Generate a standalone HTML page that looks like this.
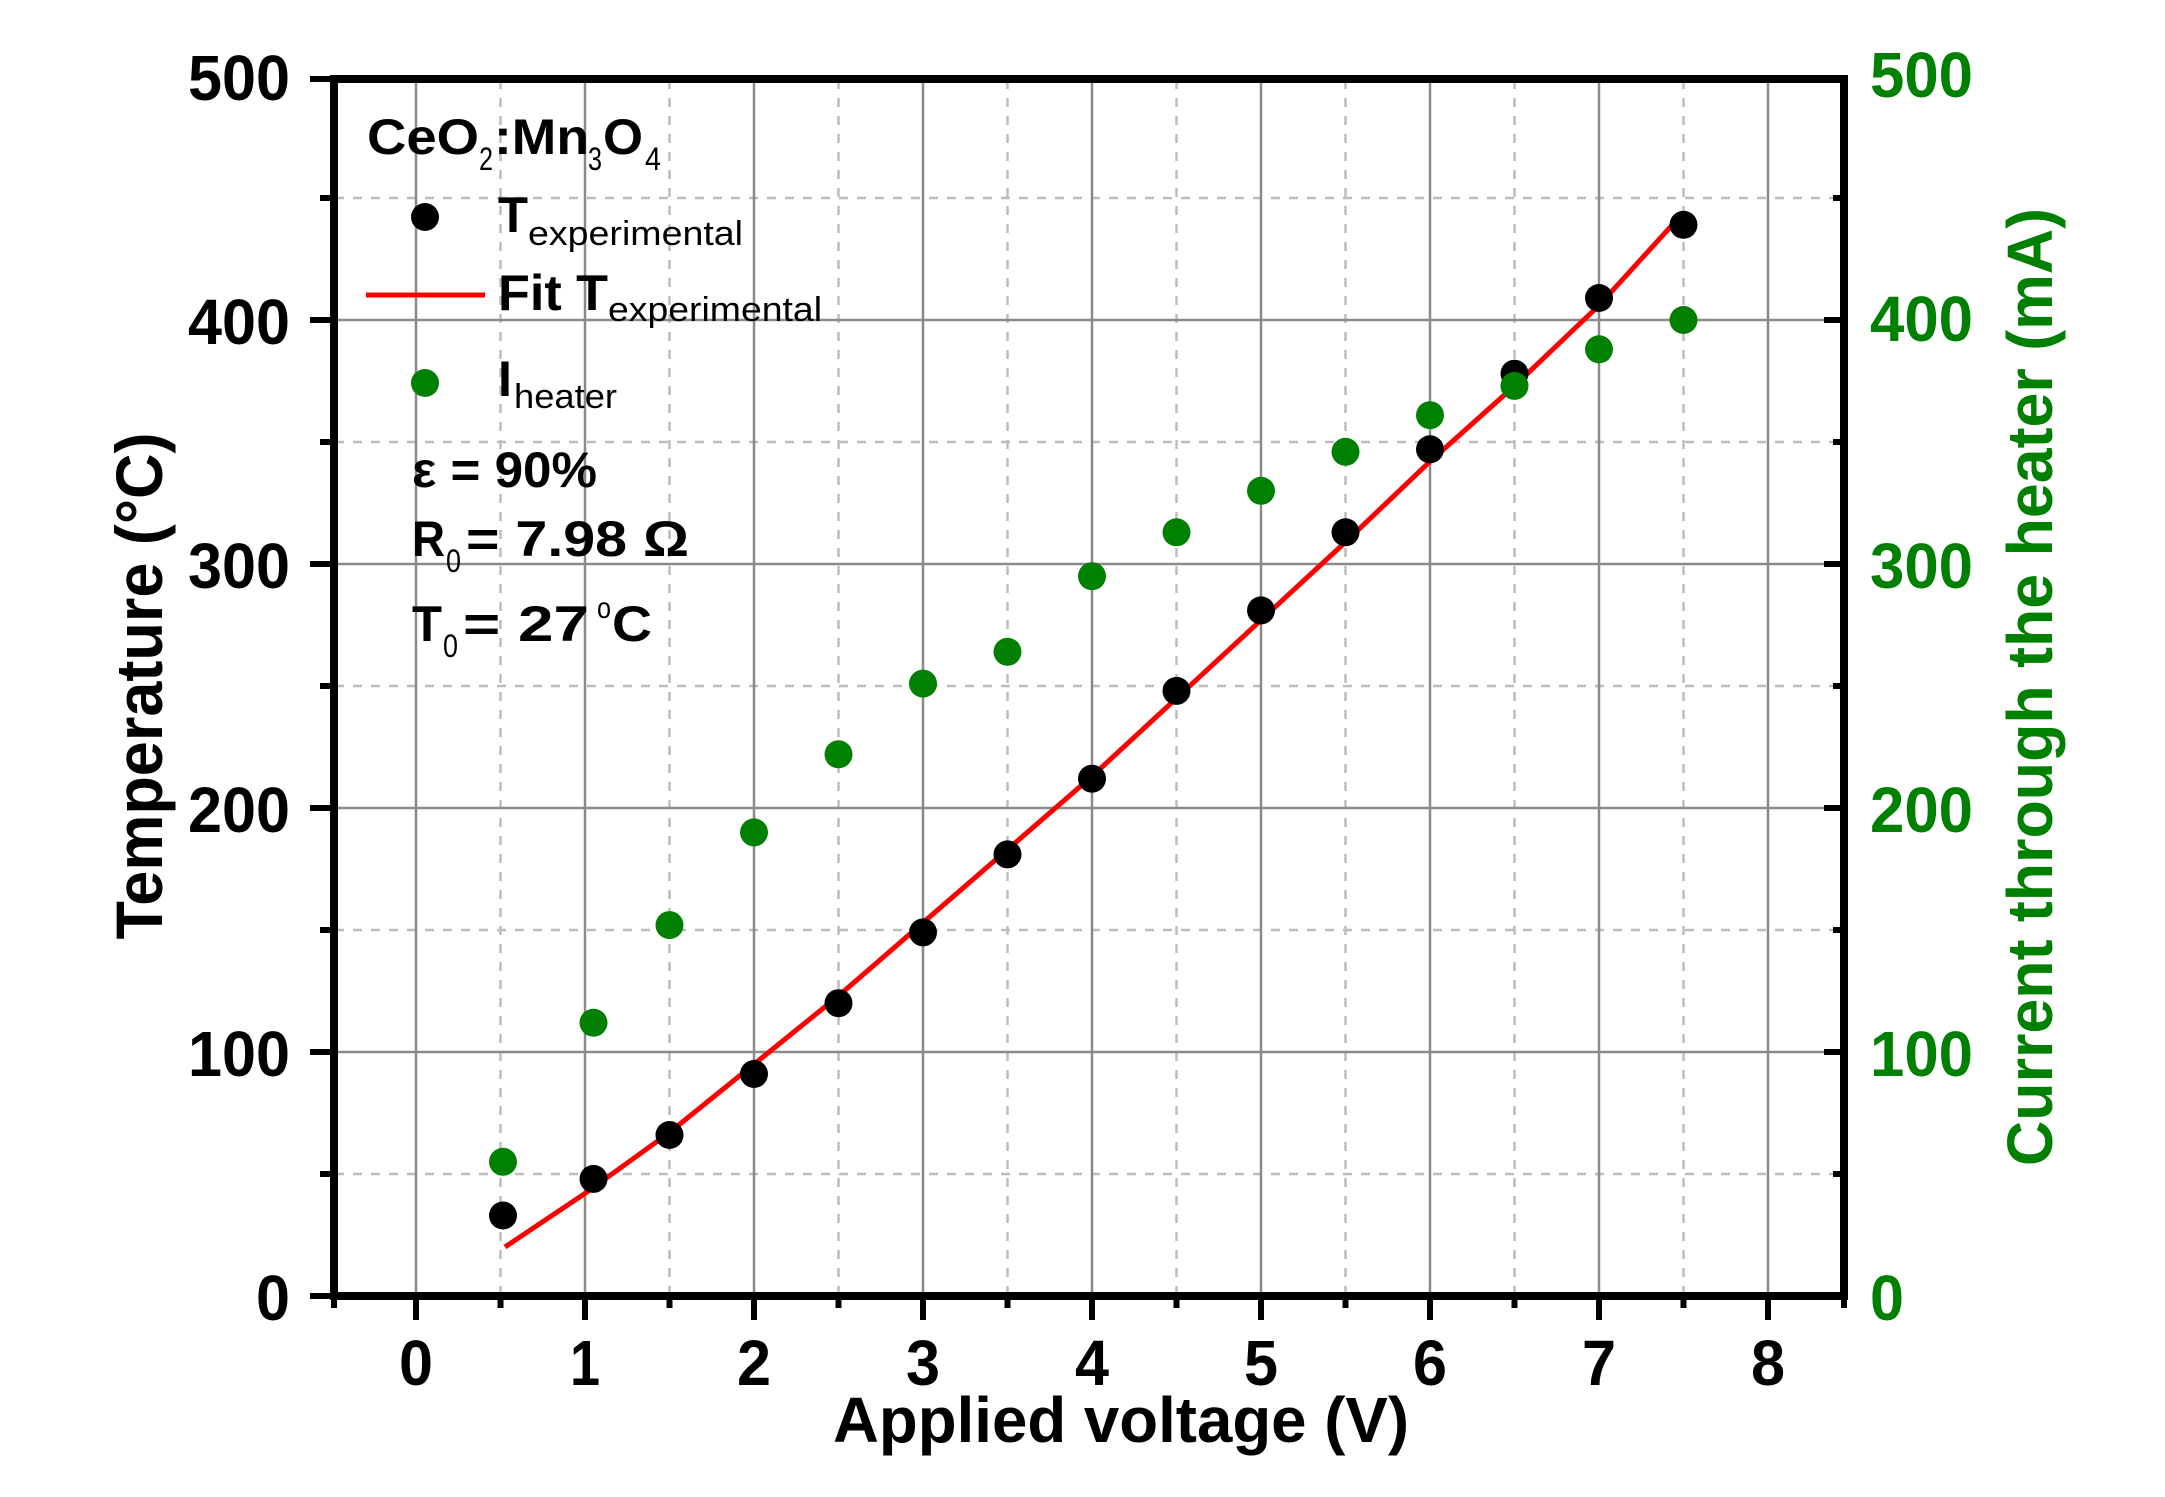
<!DOCTYPE html>
<html><head><meta charset="utf-8"><style>html,body{margin:0;padding:0;background:#fff}svg{display:block}</style></head>
<body>
<svg width="2165" height="1497" viewBox="0 0 2165 1497" xmlns="http://www.w3.org/2000/svg" font-family="'Liberation Sans', Arial, sans-serif" font-weight="bold">
<rect width="2165" height="1497" fill="#fff"/>
<!-- minor grid dashed -->
<g stroke="#bdbdbd" stroke-width="2.5" stroke-dasharray="9,9">
<line x1="500.5" y1="80" x2="500.5" y2="1296"/><line x1="669.5" y1="80" x2="669.5" y2="1296"/><line x1="838.5" y1="80" x2="838.5" y2="1296"/><line x1="1007.5" y1="80" x2="1007.5" y2="1296"/><line x1="1176.5" y1="80" x2="1176.5" y2="1296"/><line x1="1345.5" y1="80" x2="1345.5" y2="1296"/><line x1="1514.5" y1="80" x2="1514.5" y2="1296"/><line x1="1683.5" y1="80" x2="1683.5" y2="1296"/>
<line x1="335" y1="1174" x2="1844" y2="1174"/><line x1="335" y1="930" x2="1844" y2="930"/><line x1="335" y1="686" x2="1844" y2="686"/><line x1="335" y1="442" x2="1844" y2="442"/><line x1="335" y1="198" x2="1844" y2="198"/>
</g>
<g stroke="#8a8a8a" stroke-width="2.5">
<line x1="416" y1="80" x2="416" y2="1296"/><line x1="585" y1="80" x2="585" y2="1296"/><line x1="754" y1="80" x2="754" y2="1296"/><line x1="923" y1="80" x2="923" y2="1296"/><line x1="1092" y1="80" x2="1092" y2="1296"/><line x1="1261" y1="80" x2="1261" y2="1296"/><line x1="1430" y1="80" x2="1430" y2="1296"/><line x1="1599" y1="80" x2="1599" y2="1296"/><line x1="1768" y1="80" x2="1768" y2="1296"/>
<line x1="335" y1="1052" x2="1844" y2="1052"/><line x1="335" y1="808" x2="1844" y2="808"/><line x1="335" y1="564" x2="1844" y2="564"/><line x1="335" y1="320" x2="1844" y2="320"/>
</g>
<!-- axes -->
<g stroke="#000" fill="none">
<rect x="334" y="79" width="1510" height="1217" stroke-width="8"/>
</g>
<g stroke="#000" stroke-width="6">
<!-- left ticks -->
<line x1="310" y1="1296" x2="334" y2="1296"/><line x1="310" y1="1052" x2="334" y2="1052"/><line x1="310" y1="808" x2="334" y2="808"/><line x1="310" y1="564" x2="334" y2="564"/><line x1="310" y1="320" x2="334" y2="320"/><line x1="310" y1="79" x2="334" y2="79"/>
<line x1="320" y1="1174" x2="334" y2="1174"/><line x1="320" y1="930" x2="334" y2="930"/><line x1="320" y1="686" x2="334" y2="686"/><line x1="320" y1="442" x2="334" y2="442"/><line x1="320" y1="198" x2="334" y2="198"/>
<!-- right ticks inward -->
<line x1="1824" y1="1052" x2="1844" y2="1052"/><line x1="1824" y1="808" x2="1844" y2="808"/><line x1="1824" y1="564" x2="1844" y2="564"/><line x1="1824" y1="320" x2="1844" y2="320"/>
<line x1="1833" y1="1174" x2="1844" y2="1174"/><line x1="1833" y1="930" x2="1844" y2="930"/><line x1="1833" y1="686" x2="1844" y2="686"/><line x1="1833" y1="442" x2="1844" y2="442"/><line x1="1833" y1="198" x2="1844" y2="198"/>
<!-- bottom ticks -->
<line x1="416" y1="1296" x2="416" y2="1320"/><line x1="585" y1="1296" x2="585" y2="1320"/><line x1="754" y1="1296" x2="754" y2="1320"/><line x1="923" y1="1296" x2="923" y2="1320"/><line x1="1092" y1="1296" x2="1092" y2="1320"/><line x1="1261" y1="1296" x2="1261" y2="1320"/><line x1="1430" y1="1296" x2="1430" y2="1320"/><line x1="1599" y1="1296" x2="1599" y2="1320"/><line x1="1768" y1="1296" x2="1768" y2="1320"/>
<line x1="334" y1="1296" x2="334" y2="1308"/><line x1="500.5" y1="1296" x2="500.5" y2="1308"/><line x1="669.5" y1="1296" x2="669.5" y2="1308"/><line x1="838.5" y1="1296" x2="838.5" y2="1308"/><line x1="1007.5" y1="1296" x2="1007.5" y2="1308"/><line x1="1176.5" y1="1296" x2="1176.5" y2="1308"/><line x1="1345.5" y1="1296" x2="1345.5" y2="1308"/><line x1="1514.5" y1="1296" x2="1514.5" y2="1308"/><line x1="1683.5" y1="1296" x2="1683.5" y2="1308"/><line x1="1844" y1="1296" x2="1844" y2="1308"/>
</g>
<!-- tick labels -->
<g font-size="64" fill="#000" text-anchor="middle">
<text x="416" y="1385" textLength="34" lengthAdjust="spacingAndGlyphs">0</text>
<text x="585" y="1385" textLength="30" lengthAdjust="spacingAndGlyphs">1</text>
<text x="754" y="1385" textLength="34" lengthAdjust="spacingAndGlyphs">2</text>
<text x="923" y="1385" textLength="34" lengthAdjust="spacingAndGlyphs">3</text>
<text x="1092" y="1385" textLength="34" lengthAdjust="spacingAndGlyphs">4</text>
<text x="1261" y="1385" textLength="34" lengthAdjust="spacingAndGlyphs">5</text>
<text x="1430" y="1385" textLength="34" lengthAdjust="spacingAndGlyphs">6</text>
<text x="1599" y="1385" textLength="34" lengthAdjust="spacingAndGlyphs">7</text>
<text x="1768" y="1385" textLength="34" lengthAdjust="spacingAndGlyphs">8</text>
</g>
<g font-size="64" fill="#000" text-anchor="end">
<text x="290" y="1320" textLength="34" lengthAdjust="spacingAndGlyphs">0</text>
<text x="290" y="1076" textLength="102" lengthAdjust="spacingAndGlyphs">100</text>
<text x="290" y="832" textLength="102" lengthAdjust="spacingAndGlyphs">200</text>
<text x="290" y="588" textLength="102" lengthAdjust="spacingAndGlyphs">300</text>
<text x="290" y="344" textLength="102" lengthAdjust="spacingAndGlyphs">400</text>
<text x="290" y="100" textLength="102" lengthAdjust="spacingAndGlyphs">500</text>
</g>
<g font-size="64" fill="#008000">
<text x="1870" y="1320" textLength="34" lengthAdjust="spacingAndGlyphs">0</text>
<text x="1870" y="1076" textLength="103" lengthAdjust="spacingAndGlyphs">100</text>
<text x="1870" y="832" textLength="103" lengthAdjust="spacingAndGlyphs">200</text>
<text x="1870" y="588" textLength="103" lengthAdjust="spacingAndGlyphs">300</text>
<text x="1870" y="341" textLength="103" lengthAdjust="spacingAndGlyphs">400</text>
<text x="1870" y="97" textLength="103" lengthAdjust="spacingAndGlyphs">500</text>
</g>
<!-- axis titles -->
<text x="1121" y="1442" font-size="64" text-anchor="middle" textLength="576" lengthAdjust="spacingAndGlyphs">Applied voltage (V)</text>
<text transform="translate(162,686) rotate(-90)" font-size="66" text-anchor="middle" textLength="507" lengthAdjust="spacingAndGlyphs">Temperature (°C)</text>
<text transform="translate(2052,687) rotate(-90)" font-size="64" fill="#008000" text-anchor="middle" textLength="958" lengthAdjust="spacingAndGlyphs">Current through the heater (mA)</text>
<!-- fit line -->
<polyline fill="none" stroke="#ff0000" stroke-width="5" points="505,1247 585,1193.5 669.5,1132.5 754,1064.2 838.5,995.9 923,922.7 1007.5,849.5 1092,776.3 1176.5,698.2 1261,620.1 1345.5,542 1430,461.5 1514.5,385.9 1599,305.4 1683.5,212.6"/>
<!-- T experimental -->
<g fill="#000">
<circle cx="503" cy="1215.5" r="14"/><circle cx="593.5" cy="1178.9" r="14"/><circle cx="669.5" cy="1135" r="14"/><circle cx="754" cy="1074" r="14"/><circle cx="838.5" cy="1003.2" r="14"/><circle cx="923" cy="932.4" r="14"/><circle cx="1007.5" cy="854.4" r="14"/><circle cx="1092" cy="778.7" r="14"/><circle cx="1176.5" cy="690.9" r="14"/><circle cx="1261" cy="610.4" r="14"/><circle cx="1345.5" cy="532.3" r="14"/><circle cx="1430" cy="449.3" r="14"/><circle cx="1514.5" cy="373.7" r="14"/><circle cx="1599" cy="298" r="14"/><circle cx="1683.5" cy="224.8" r="14"/>
</g>
<g fill="#008000">
<circle cx="503" cy="1161.8" r="14"/><circle cx="593.5" cy="1022.7" r="14"/><circle cx="669.5" cy="925.1" r="14"/><circle cx="754" cy="832.4" r="14"/><circle cx="838.5" cy="754.3" r="14"/><circle cx="923" cy="683.6" r="14"/><circle cx="1007.5" cy="651.8" r="14"/><circle cx="1092" cy="576.2" r="14"/><circle cx="1176.5" cy="532.3" r="14"/><circle cx="1261" cy="490.8" r="14"/><circle cx="1345.5" cy="451.8" r="14"/><circle cx="1430" cy="415.2" r="14"/><circle cx="1514.5" cy="385.9" r="14"/><circle cx="1599" cy="349.3" r="14"/><circle cx="1683.5" cy="320" r="14"/>
</g>
<!-- legend -->
<g fill="#000" font-weight="normal">
<text x="367" y="154" font-size="50" font-weight="bold" textLength="112" lengthAdjust="spacingAndGlyphs">CeO</text>
<text x="479" y="170" font-size="32" textLength="14" lengthAdjust="spacingAndGlyphs">2</text>
<text x="494" y="154" font-size="50" font-weight="bold" textLength="95" lengthAdjust="spacingAndGlyphs">:Mn</text>
<text x="588" y="170" font-size="32" textLength="14" lengthAdjust="spacingAndGlyphs">3</text>
<text x="603" y="154" font-size="50" font-weight="bold" textLength="40" lengthAdjust="spacingAndGlyphs">O</text>
<text x="645" y="170" font-size="32" textLength="16" lengthAdjust="spacingAndGlyphs">4</text>
<circle cx="425" cy="217" r="14"/>
<text x="498" y="232" font-size="50" font-weight="bold" textLength="30" lengthAdjust="spacingAndGlyphs">T</text>
<text x="528" y="245" font-size="34" textLength="215" lengthAdjust="spacingAndGlyphs">experimental</text>
<line x1="366" y1="295" x2="485" y2="295" stroke="#ff0000" stroke-width="5"/>
<text x="498" y="310" font-size="50" font-weight="bold" textLength="110" lengthAdjust="spacingAndGlyphs">Fit T</text>
<text x="608" y="321" font-size="34" textLength="214" lengthAdjust="spacingAndGlyphs">experimental</text>
<circle cx="425" cy="383" r="14" fill="#008000"/>
<text x="498" y="396" font-size="50" font-weight="bold" textLength="14" lengthAdjust="spacingAndGlyphs">I</text>
<text x="514" y="408" font-size="34" textLength="103" lengthAdjust="spacingAndGlyphs">heater</text>
<text x="412" y="487" font-size="50" font-weight="bold" textLength="185" lengthAdjust="spacingAndGlyphs">ε = 90%</text>
<text x="412" y="556" font-size="50" font-weight="bold" textLength="33" lengthAdjust="spacingAndGlyphs">R</text>
<text x="446" y="572" font-size="32" textLength="15" lengthAdjust="spacingAndGlyphs">0</text>
<text x="466" y="556" font-size="50" font-weight="bold" textLength="223" lengthAdjust="spacingAndGlyphs">= 7.98 Ω</text>
<text x="412" y="641" font-size="50" font-weight="bold" textLength="30" lengthAdjust="spacingAndGlyphs">T</text>
<text x="443" y="657" font-size="32" textLength="15" lengthAdjust="spacingAndGlyphs">0</text>
<text x="463" y="641" font-size="50" font-weight="bold" textLength="126" lengthAdjust="spacingAndGlyphs">= 27 </text>
<text x="597" y="618" font-size="30" textLength="14" lengthAdjust="spacingAndGlyphs">o</text>
<text x="612" y="641" font-size="50" font-weight="bold" textLength="40" lengthAdjust="spacingAndGlyphs">C</text>
</g>
</svg>
</body></html>
